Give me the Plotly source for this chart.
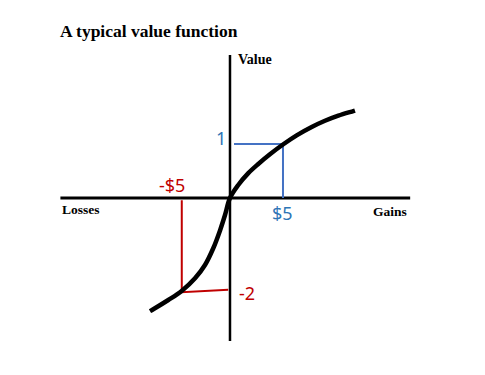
import plotly.graph_objects as go

# Value function curve (x in $, y in value units)
curve_x = [-7.55, -7.24, -5.82, -4.56, -3.30, -2.36, -1.58, -0.94, -0.47, 0.0,
           0.78, 1.73, 2.67, 3.77, 5.03, 6.29, 7.71, 8.96, 10.22, 11.63, 11.79]
curve_y = [-2.095, -2.06, -1.889, -1.722, -1.487, -1.241, -0.931, -0.60, -0.315, 0.0,
           0.24, 0.46, 0.63, 0.81, 0.995, 1.16, 1.315, 1.43, 1.525, 1.61, 1.62]

# Axis extents
axis_h_x = [-16.0, 17.0]
axis_h_y = [0.0, 0.0]
axis_v_x = [0.0, 0.0]
axis_v_y = [2.65, -2.65]

# Gain marker (+$5 -> 1)
gain_x = [0.38, 5.0, 5.0]
gain_y = [1.0, 1.0, 0.0]

# Loss marker (-$5 -> -2)
loss_x = [-4.55, -4.55, -0.17]
loss_y = [-0.04, -1.745, -1.70]

X_RANGE = [-21.70, 24.06]
Y_RANGE = [-3.278, 3.667]

fig = go.Figure()
fig.add_trace(go.Scatter(x=axis_h_x, y=axis_h_y, mode="lines",
                         line=dict(color="black", width=3)))
fig.add_trace(go.Scatter(x=axis_v_x, y=axis_v_y, mode="lines",
                         line=dict(color="black", width=2.5)))
fig.add_trace(go.Scatter(x=gain_x, y=gain_y, mode="lines",
                         line=dict(color="#4472C4", width=2)))
fig.add_trace(go.Scatter(x=loss_x, y=loss_y, mode="lines",
                         line=dict(color="#C00000", width=2)))
fig.add_trace(go.Scatter(x=curve_x, y=curve_y, mode="lines",
                         line=dict(color="black", width=4.5, shape="spline", smoothing=1.0)))

serif = "Liberation Serif"
sans = "Noto Sans"
ann = [
    dict(text="<b>A typical value function</b>", xref="paper", yref="paper",
         x=58 / 485, y=1 - 31 / 375, xanchor="left", yanchor="middle",
         font=dict(family=serif, size=17.5, color="black")),
    dict(text="<b>Value</b>", x=0.57, y=2.574, xanchor="left", yanchor="middle",
         font=dict(family=serif, size=14, color="black")),
    dict(text="<b>Losses</b>", x=-16.04, y=-0.222, xanchor="left", yanchor="middle",
         font=dict(family=serif, size=13.5, color="black")),
    dict(text="<b>Gains</b>", x=16.89, y=-0.259, xanchor="right", yanchor="middle",
         font=dict(family=serif, size=13.5, color="black")),
    dict(text="1", x=-0.85, y=1.11, xanchor="center", yanchor="middle",
         font=dict(family=sans, size=18, color="#2E75B6")),
    dict(text="$5", x=4.99, y=-0.28, xanchor="center", yanchor="middle",
         font=dict(family=sans, size=18, color="#2E75B6")),
    dict(text="-$5", x=-5.47, y=0.24, xanchor="center", yanchor="middle",
         font=dict(family=sans, size=18, color="#C00000")),
    dict(text="-2", x=1.6, y=-1.76, xanchor="center", yanchor="middle",
         font=dict(family=sans, size=18, color="#C00000")),
]
for a in ann:
    a["showarrow"] = False
    fig.add_annotation(**a)

fig.update_layout(
    width=485, height=375,
    margin=dict(l=0, r=0, t=0, b=0),
    paper_bgcolor="white", plot_bgcolor="white",
    showlegend=False, hovermode=False,
    xaxis=dict(range=X_RANGE, visible=False, fixedrange=True),
    yaxis=dict(range=Y_RANGE, visible=False, fixedrange=True),
)
fig.write_html("out.html", config={"displayModeBar": False})
